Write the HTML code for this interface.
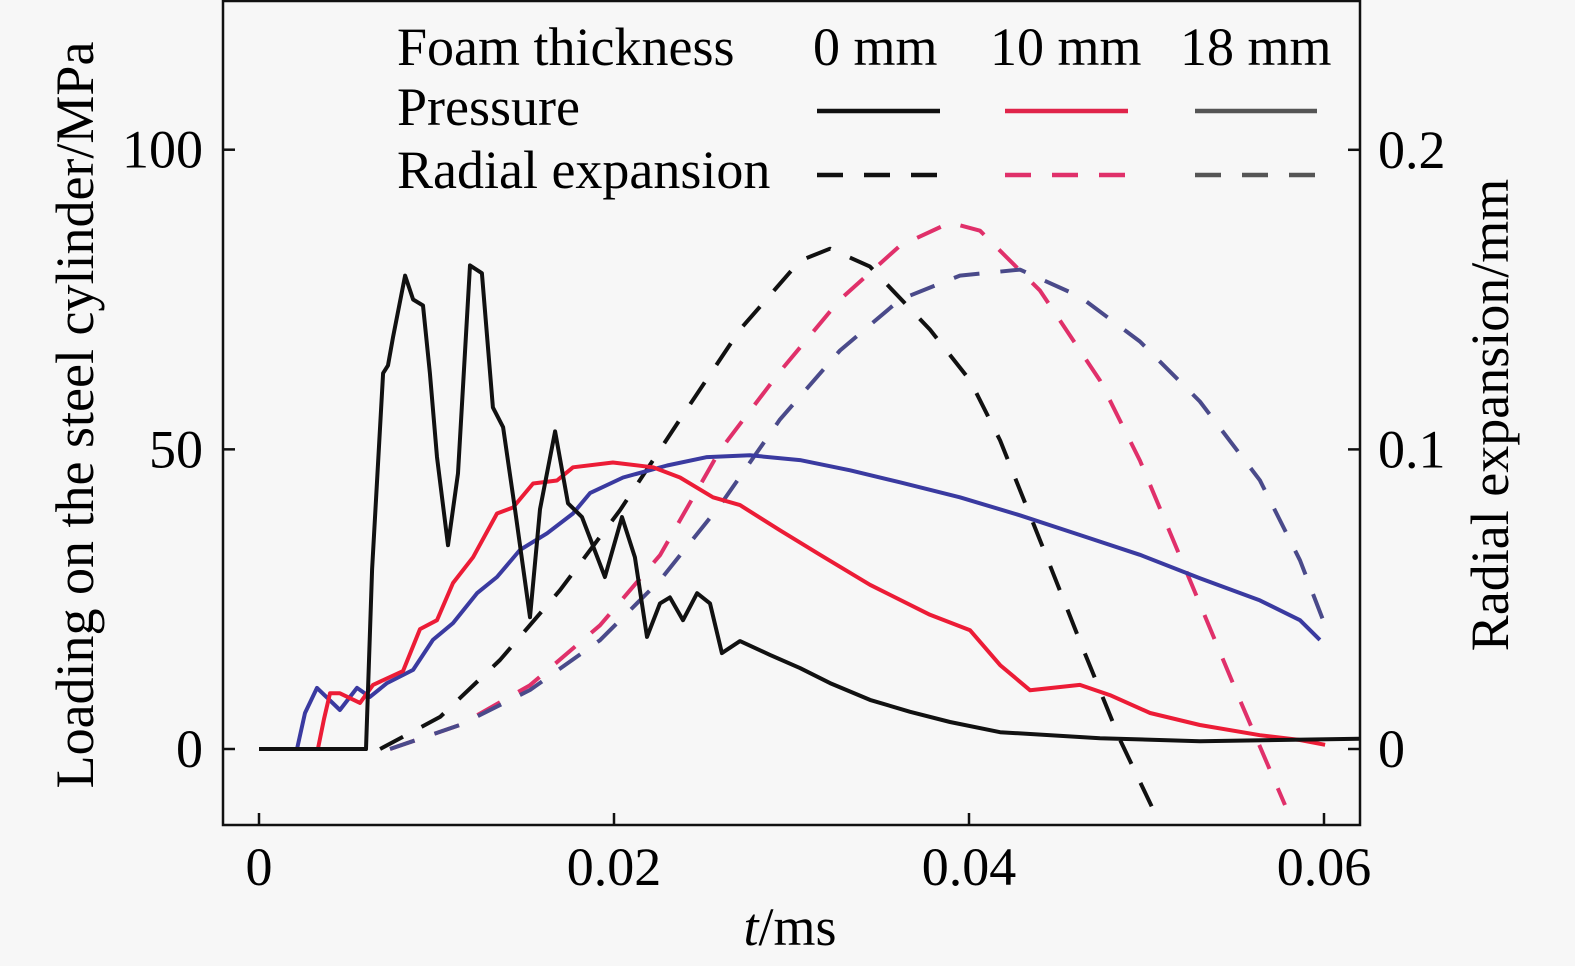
<!DOCTYPE html>
<html><head><meta charset="utf-8"><style>
body{margin:0;background:#f7f7f7;}
svg{display:block;font-family:"Liberation Serif",serif;}
</style></head><body>
<svg width="1575" height="966" viewBox="0 0 1575 966">
<defs><clipPath id="pc"><rect x="223" y="1" width="1137" height="824"/></clipPath></defs>
<rect x="0" y="0" width="1575" height="966" fill="#f7f7f7"/>
<g id="series" clip-path="url(#pc)"></g>
<rect x="223" y="1" width="1137" height="824" fill="none" stroke="#111" stroke-width="2.5"/>
<g id="axes"></g>
<text x="790" y="945" font-size="54" text-anchor="middle"><tspan font-style="italic">t</tspan>/ms</text>
<text transform="translate(93,415) rotate(-90)" font-size="54" text-anchor="middle">Loading on the steel cylinder/MPa</text>
<text transform="translate(1508,415) rotate(-90)" font-size="54" text-anchor="middle">Radial expansion/mm</text>
<g font-size="54">
<text x="397" y="65">Foam thickness</text>
<text x="813" y="65">0 mm</text>
<text x="990" y="65">10 mm</text>
<text x="1180" y="65">18 mm</text>
<text x="397" y="125">Pressure</text>
<text x="397" y="188">Radial expansion</text>
<line x1="817" y1="111" x2="940" y2="111" stroke="#111" stroke-width="4.5"/>
<line x1="1005" y1="111" x2="1128" y2="111" stroke="#e0244a" stroke-width="4.5"/>
<line x1="1195" y1="111" x2="1317" y2="111" stroke="#555" stroke-width="4.5"/>
<line x1="817" y1="175" x2="940" y2="175" stroke="#111" stroke-width="4.5" stroke-dasharray="26,21"/>
<line x1="1005" y1="175" x2="1128" y2="175" stroke="#e0306a" stroke-width="4.5" stroke-dasharray="26,21"/>
<line x1="1195" y1="175" x2="1317" y2="175" stroke="#555" stroke-width="4.5" stroke-dasharray="26,21"/>
</g>
</svg>
<script>
const xTicks=[0,0.02,0.04,0.06];
const xTickLabels=["0","0.02","0.04","0.06"];
const yLeftTicks=[0,50,100];
const yLeftTickLabels=["0","50","100"];
const yRightTicks=[0,0.1,0.2];
const yRightTickLabels=["0","0.1","0.2"];
const p0T=[0,0.00603,0.00637,0.00699,0.00727,0.00755,0.00823,0.00868,0.00924,0.00963,0.01003,0.01065,0.01121,0.01189,0.01256,0.01318,0.01375,0.01442,0.01527,0.01583,0.01668,0.01741,0.0182,0.01949,0.02045,0.02118,0.02186,0.02259,0.02315,0.02389,0.02468,0.02541,0.02608,0.0271,0.02879,0.03048,0.03217,0.03442,0.03668,0.03893,0.04175,0.04738,0.05301,0.06203];
const p0V=[0,0,30,62.7,64,68.7,79,75,74,62.7,48.7,34,46,80.7,79.4,57,53.7,40,22,40,53,41,38.7,28.7,38.7,32,18.7,24.3,25.3,21.5,26,24.3,16,18,15.7,13.5,11,8.2,6.2,4.5,2.8,1.8,1.3,1.7];
const p10T=[0,0.00332,0.00366,0.004,0.00456,0.00569,0.00642,0.00811,0.00907,0.01003,0.01093,0.01206,0.01341,0.01431,0.01544,0.01679,0.01769,0.01994,0.0222,0.02372,0.02558,0.0271,0.02935,0.03161,0.03442,0.0378,0.04006,0.04175,0.04344,0.04625,0.04794,0.0502,0.05301,0.05639,0.05865,0.06006];
const p10V=[0,0,5,9.3,9.3,7.7,10.7,13,20,21.5,27.7,32,39.3,40.3,44.3,44.8,47,47.8,47,45.3,42,40.7,36.5,32.4,27.4,22.4,19.8,14,9.8,10.7,9,6,4,2.3,1.5,0.7];
const p18T=[0,0.00214,0.00259,0.00327,0.00456,0.00552,0.00625,0.00721,0.00868,0.0098,0.01093,0.01228,0.01341,0.0147,0.01623,0.01769,0.01865,0.02051,0.02299,0.02524,0.02766,0.03048,0.0333,0.03611,0.03949,0.04287,0.04625,0.04963,0.05301,0.05639,0.05865,0.05977];
const p18V=[0,0,6,10.2,6.5,10.2,8.7,11,13.2,18.2,21,26,28.7,33.2,36,39.3,42.7,45.3,47.3,48.7,49,48.2,46.5,44.5,42,39,35.7,32.4,28.5,24.8,21.5,18.2];
const r0T=[0.00682,0.0102,0.01358,0.01696,0.02034,0.02372,0.0271,0.03048,0.03217,0.03442,0.0378,0.04006,0.04175,0.044,0.04625,0.04851,0.05076];
const r0V=[0,0.0107,0.0297,0.053,0.0797,0.11,0.14,0.163,0.167,0.161,0.14,0.123,0.103,0.0697,0.036,0.003,-0.025];
const r10T=[0.00738,0.01132,0.01527,0.01921,0.02259,0.02597,0.02935,0.03273,0.03611,0.03893,0.04062,0.044,0.04738,0.04963,0.05245,0.05527,0.0578];
const r10V=[0,0.008,0.0213,0.0413,0.0647,0.0997,0.126,0.15,0.168,0.1757,0.173,0.153,0.123,0.0963,0.0563,0.0163,-0.0187];
const r18T=[0.00738,0.01132,0.01527,0.01921,0.02259,0.02597,0.02935,0.03273,0.03611,0.03949,0.04287,0.04625,0.04963,0.05301,0.05639,0.05865,0.06006];
const r18V=[0,0.008,0.0197,0.0363,0.0563,0.0813,0.11,0.133,0.15,0.158,0.16,0.151,0.136,0.116,0.0897,0.063,0.0413];

const NS="http://www.w3.org/2000/svg";
function sx(t){return 259+t*17750;}
function syL(p){return 749-p*5.993;}
function syR(r){return 749-r*2996;}
const ser=document.getElementById('series');
const ax=document.getElementById('axes');
function path(T,V,fy,color,dash,name){
  const p=document.createElementNS(NS,'path');
  p.setAttribute('d',T.map((t,i)=>(i?'L':'M')+sx(t).toFixed(1)+','+fy(V[i]).toFixed(1)).join(''));
  p.setAttribute('fill','none');p.setAttribute('stroke',color);p.setAttribute('stroke-width','4');
  p.setAttribute('stroke-linejoin','round');
  if(dash)p.setAttribute('stroke-dasharray','26,21');
  
  
  ser.appendChild(p);
}
path(r0T,r0V,syR,'#111',true,'radial-0mm-line');
path(r10T,r10V,syR,'#e0306a',true,'radial-10mm-line');
path(r18T,r18V,syR,'#4a4a8a',true,'radial-18mm-line');
path(p18T,p18V,syL,'#3a3aa0',false,'pressure-18mm-line');
path(p10T,p10V,syL,'#ec1c36',false,'pressure-10mm-line');
path(p0T,p0V,syL,'#111',false,'pressure-0mm-line');
function line(x1,y1,x2,y2,name){
  const l=document.createElementNS(NS,'line');
  l.setAttribute('x1',x1);l.setAttribute('y1',y1);l.setAttribute('x2',x2);l.setAttribute('y2',y2);
  l.setAttribute('stroke','#111');l.setAttribute('stroke-width','2.5');
  
  
  ax.appendChild(l);
}
function text(x,y,s,anchor,name){
  const t=document.createElementNS(NS,'text');
  t.setAttribute('x',x);t.setAttribute('y',y);t.setAttribute('font-size','54');t.setAttribute('text-anchor',anchor);
  t.textContent=s;
  
  
  ax.appendChild(t);
}
xTicks.forEach((v,i)=>{const x=sx(v);line(x,825,x,813,'x-tick');text(x,885,xTickLabels[i],'middle','x-tick-label');});
yLeftTicks.forEach((v,i)=>{const y=syL(v);line(223,y,235,y,'y-left-tick');text(203,y+18,yLeftTickLabels[i],'end','y-left-tick-label');});
yRightTicks.forEach((v,i)=>{const y=syR(v);line(1348,y,1360,y,'y-right-tick');text(1378,y+18,yRightTickLabels[i],'start','y-right-tick-label');});
</script>
</body></html>
